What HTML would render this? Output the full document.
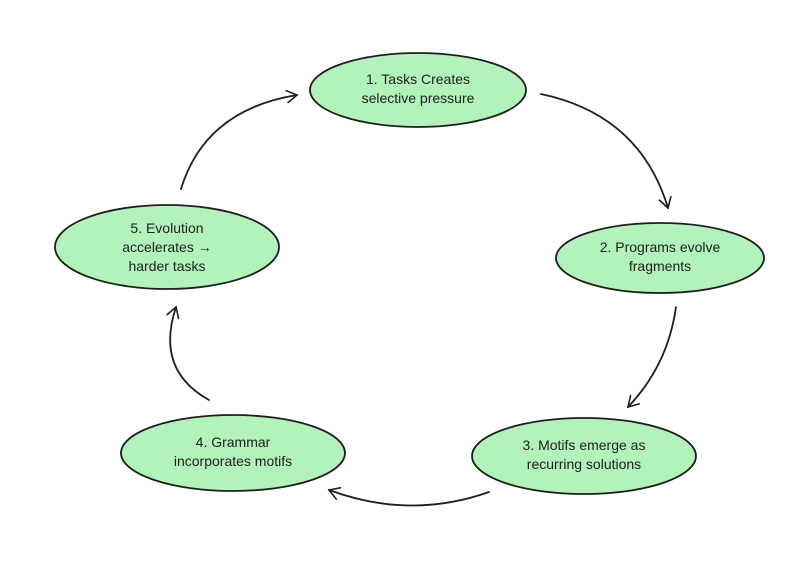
<!DOCTYPE html>
<html><head><meta charset="utf-8"><style>
html,body{margin:0;padding:0;background:#fff;}
svg{display:block;}
text{font-family:"Liberation Sans",sans-serif;font-size:14px;fill:#1e1e1e;}
</style></head><body>
<svg width="812" height="583" viewBox="0 0 812 583" xmlns="http://www.w3.org/2000/svg">
<defs>
<marker id="a" markerWidth="14" markerHeight="14" refX="11" refY="7" orient="auto" markerUnits="userSpaceOnUse">
<polyline points="1,1 11,7 1,13" fill="none" stroke="#1e1e1e" stroke-width="1.6" stroke-linecap="round"/>
</marker>
</defs>
<g fill="#b2f2bb" stroke="#1e1e1e" stroke-width="1.8">
<ellipse cx="418" cy="90" rx="108" ry="37"/>
<ellipse cx="660" cy="258" rx="104" ry="35"/>
<ellipse cx="584" cy="456" rx="112" ry="38"/>
<ellipse cx="233" cy="453" rx="112" ry="38"/>
<ellipse cx="167" cy="247" rx="112" ry="42"/>
</g>
<g fill="none" stroke="#1e1e1e" stroke-width="1.8" stroke-linecap="round" marker-end="url(#a)">
<path d="M541,94 Q640,115 668,208"/>
<path d="M676,307 Q668,365 628,407"/>
<path d="M489,492 Q410,520 329,490"/>
<path d="M209,400 Q155,370 176,307"/>
<path d="M181,189 Q205,110 297,95"/>
</g>
<g text-anchor="middle">
<text x="418" y="84">1. Tasks Creates</text>
<text x="418" y="103">selective pressure</text>
<text x="660" y="252">2. Programs evolve</text>
<text x="660" y="271">fragments</text>
<text x="584" y="450">3. Motifs emerge as</text>
<text x="584" y="469">recurring solutions</text>
<text x="233" y="447">4. Grammar</text>
<text x="233" y="466">incorporates motifs</text>
<text x="167" y="233">5. Evolution</text>
<text x="167" y="252">accelerates →</text>
<text x="167" y="271">harder tasks</text>
</g>
</svg>
</body></html>
